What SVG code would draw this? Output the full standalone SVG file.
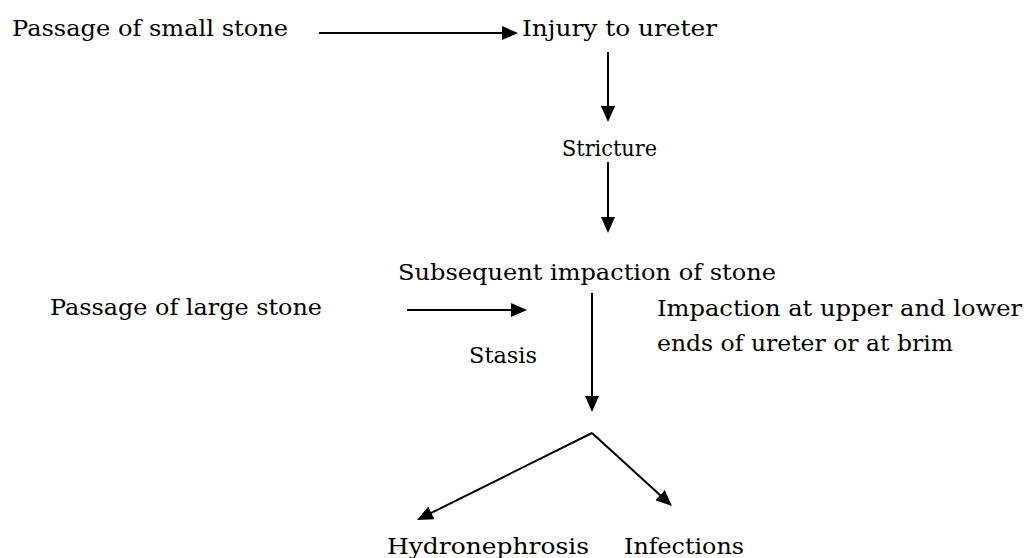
<svg xmlns="http://www.w3.org/2000/svg" width="1032" height="558" viewBox="0 0 1032 558">
<style>
text{font-family:"DejaVu Serif","Liberation Serif",serif;font-size:22px;fill:#000}
.c{stroke:#000;stroke-width:2;fill:none}
</style>
<defs>
<marker id="ah" markerUnits="userSpaceOnUse" markerWidth="16" markerHeight="14" refX="12" refY="7" orient="auto">
<path d="M0,0 L16,7 L0,14 z" fill="#000"/>
</marker>
</defs>
<rect width="1032" height="558" fill="#fff"/>
<g id="n-small"><text x="12" y="36" textLength="276" lengthAdjust="spacingAndGlyphs">Passage of small stone</text></g>
<g id="n-injury"><text x="522" y="36" textLength="195" lengthAdjust="spacingAndGlyphs">Injury to ureter</text></g>
<g id="n-stricture"><text x="562" y="156" textLength="95" lengthAdjust="spacingAndGlyphs">Stricture</text></g>
<g id="n-subsequent"><text x="398" y="280" textLength="378" lengthAdjust="spacingAndGlyphs">Subsequent impaction of stone</text></g>
<g id="n-large"><text x="50" y="315" textLength="272" lengthAdjust="spacingAndGlyphs">Passage of large stone</text></g>
<g id="n-impaction"><text x="657" y="316" textLength="365" lengthAdjust="spacingAndGlyphs">Impaction at upper and lower</text><text x="657" y="351" textLength="296" lengthAdjust="spacingAndGlyphs">ends of ureter or at brim</text></g>
<g id="n-stasis"><text x="469" y="363" textLength="68" lengthAdjust="spacingAndGlyphs">Stasis</text></g>
<g id="n-hydro"><text x="387" y="554" textLength="202" lengthAdjust="spacingAndGlyphs">Hydronephrosis</text></g>
<g id="n-infections"><text x="624" y="554" textLength="120" lengthAdjust="spacingAndGlyphs">Infections</text></g>
<g id="connectors">
<line class="c" x1="319" y1="33" x2="514" y2="33" marker-end="url(#ah)"/>
<line class="c" x1="608" y1="52" x2="608" y2="118" marker-end="url(#ah)"/>
<line class="c" x1="608" y1="162" x2="608" y2="229" marker-end="url(#ah)"/>
<line class="c" x1="407" y1="310" x2="523" y2="310" marker-end="url(#ah)"/>
<line class="c" x1="592" y1="293" x2="592" y2="408" marker-end="url(#ah)"/>
<line class="c" x1="592" y1="433" x2="420.6" y2="518.2" marker-end="url(#ah)"/>
<line class="c" x1="592" y1="433" x2="669" y2="503.3" marker-end="url(#ah)"/>
</g>
</svg>
